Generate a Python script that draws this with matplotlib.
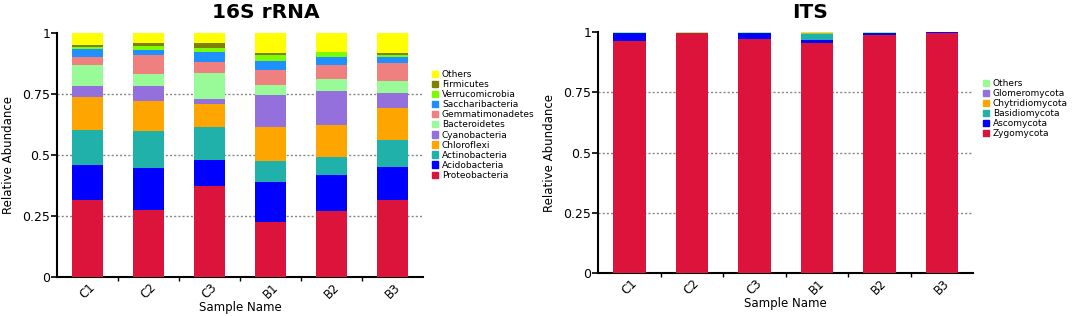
import numpy as np
import matplotlib
matplotlib.use('Agg')
import matplotlib.pyplot as plt
from matplotlib.patches import Patch

samples = ['C1', 'C2', 'C3', 'B1', 'B2', 'B3']

# 16S rRNA phyla, bottom to top
phyla_16s = ['Proteobacteria', 'Acidobacteria', 'Actinobacteria', 'Chloroflexi',
             'Cyanobacteria', 'Bacteroidetes', 'Gemmatimonadetes', 'Saccharibacteria',
             'Verrucomicrobia', 'Firmicutes', 'Others']
colors_16s = ['#DC143C', '#0000FF', '#20B2AA', '#FFA500', '#9370DB', '#98FB98',
              '#F08080', '#1E90FF', '#7CFC00', '#808000', '#FFFF00']
proteobacteria = [0.315, 0.274, 0.373, 0.226, 0.271, 0.314]
acidobacteria = [0.144, 0.174, 0.106, 0.162, 0.147, 0.137]
actinobacteria = [0.144, 0.149, 0.136, 0.087, 0.075, 0.109]
chloroflexi = [0.133, 0.126, 0.092, 0.141, 0.132, 0.134]
cyanobacteria = [0.047, 0.058, 0.021, 0.130, 0.136, 0.061]
bacteroidetes = [0.087, 0.051, 0.109, 0.042, 0.052, 0.047]
gemmatimonadetes = [0.032, 0.077, 0.046, 0.060, 0.057, 0.073]
saccharibacteria = [0.034, 0.020, 0.041, 0.038, 0.032, 0.026]
verrucomicrobia = [0.005, 0.019, 0.014, 0.022, 0.020, 0.009]
firmicutes = [0.011, 0.013, 0.021, 0.008, 0.002, 0.008]
others_16s = [0.048, 0.039, 0.041, 0.084, 0.076, 0.082]
values_16s = [proteobacteria, acidobacteria, actinobacteria, chloroflexi, cyanobacteria,
              bacteroidetes, gemmatimonadetes, saccharibacteria, verrucomicrobia,
              firmicutes, others_16s]

# ITS phyla, bottom to top
phyla_its = ['Zygomycota', 'Ascomycota', 'Basidiomycota', 'Chytridiomycota',
             'Glomeromycota', 'Others']
colors_its = ['#DC143C', '#0000FF', '#20B2AA', '#FFA500', '#9370DB', '#98FB98']
zygomycota = [0.961, 0.997, 0.971, 0.953, 0.989, 0.994]
ascomycota = [0.035, 0.000, 0.026, 0.013, 0.006, 0.004]
basidiomycota = [0.000, 0.000, 0.000, 0.026, 0.000, 0.000]
chytridiomycota = [0.000, 0.000, 0.000, 0.003, 0.000, 0.000]
glomeromycota = [0.000, 0.000, 0.000, 0.000, 0.000, 0.000]
others_its = [0.004, 0.003, 0.003, 0.005, 0.005, 0.002]
values_its = [zygomycota, ascomycota, basidiomycota, chytridiomycota, glomeromycota,
              others_its]

plt.rcParams['font.family'] = ['DejaVu Sans']

fig = plt.figure(figsize=(10.84, 3.16), dpi=100)
W, H = 1084, 316


def panel(rect, values, colors, names, title, title_x, legend_xy):
    ax = fig.add_axes([rect[0] / W, 1 - rect[3] / H, (rect[2] - rect[0]) / W,
                       (rect[3] - rect[1]) / H])
    x = np.arange(len(samples))
    bottom = np.zeros(len(samples))
    for vals, col in zip(values, colors):
        vals = np.array(vals)
        ax.bar(x, vals, bottom=bottom, width=0.52, color=col, linewidth=0, zorder=3)
        bottom += vals
    for yv in [0.25, 0.5, 0.75]:
        ax.axhline(yv, color='#888888', linestyle=(0, (1.5, 1.5)), linewidth=1, zorder=1)
    ax.set_xlim(-0.5, 5.5)
    ax.set_ylim(0, 1)
    ax.set_yticks([0, 0.25, 0.5, 0.75, 1])
    ax.set_yticklabels(['0', '0.25', '0.5', '0.75', '1'], fontsize=9)
    ax.set_xticks(x)
    ax.set_xticklabels(samples, rotation=45, fontsize=8.5, ha='center')
    ax.set_xticks(x[:-1] + 0.5, minor=True)
    ax.tick_params(axis='x', which='major', length=0, pad=3)
    ax.tick_params(axis='x', which='minor', length=3, width=1)
    ax.tick_params(axis='y', length=4, width=1.2, pad=1)
    for s in ['top', 'right']:
        ax.spines[s].set_visible(False)
    for s in ['left', 'bottom']:
        ax.spines[s].set_linewidth(1.5)
    ax.set_xlabel('Sample Name', fontsize=8.5, labelpad=0)
    ax.set_ylabel('Relative Abundance', fontsize=8.5, labelpad=5)
    fig.text(title_x / W, 1 - 13 / H, title, fontsize=14.5, fontweight='bold',
             ha='center', va='center')
    handles = [Patch(facecolor=c, edgecolor=c) for c in colors[::-1]]
    fig.legend(handles, names[::-1], loc='upper left',
               bbox_to_anchor=(legend_xy[0] / W, 1 - legend_xy[1] / H),
               frameon=False, fontsize=6.5, handlelength=0.7, handleheight=0.7,
               handletextpad=0.4, labelspacing=0.12, borderpad=0, borderaxespad=0)
    return ax


panel((57, 33, 423, 277), values_16s, colors_16s, phyla_16s, '16S rRNA', 266, (432, 70))
panel((598, 32, 973, 273), values_its, colors_its, phyla_its, 'ITS', 810, (983, 79))

fig.savefig('out.png', dpi=100)
